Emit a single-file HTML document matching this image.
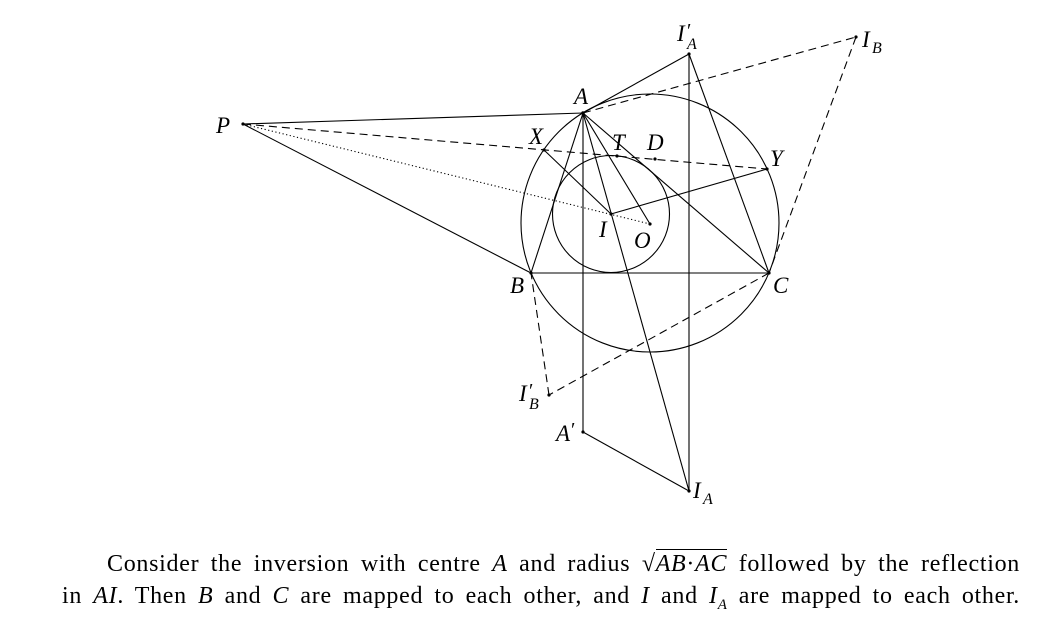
<!DOCTYPE html>
<html><head><meta charset="utf-8"><style>
html,body{margin:0;padding:0;background:#fff;}
body{width:1043px;height:620px;position:relative;overflow:hidden;}
svg{position:absolute;left:0;top:0;}
.t{position:absolute;font-family:"Liberation Serif",serif;font-size:24px;letter-spacing:0.7px;color:#000;white-space:nowrap;text-align:justify;text-align-last:justify;}
</style></head><body>
<svg width="1043" height="620" viewBox="0 0 1043 620">
<g stroke="#000" stroke-width="1.1" fill="none">
<circle cx="650" cy="223" r="129"/>
<circle cx="611" cy="214" r="58.5"/>
<line x1="243" y1="124" x2="583" y2="113"/>
<line x1="243" y1="124" x2="531" y2="273"/>
<line x1="583" y1="113" x2="531" y2="273"/>
<line x1="583" y1="113" x2="769" y2="273"/>
<line x1="531" y1="273" x2="769" y2="273"/>
<line x1="583" y1="113" x2="689" y2="491"/>
<line x1="583" y1="113" x2="650" y2="224"/>
<line x1="583" y1="113" x2="689" y2="54"/>
<line x1="689" y1="54" x2="769" y2="273"/>
<line x1="689" y1="54" x2="689" y2="491"/>
<line x1="583" y1="113" x2="583" y2="432"/>
<line x1="583" y1="432" x2="689" y2="491"/>
<line x1="544" y1="150" x2="611" y2="214"/>
<line x1="611" y1="214" x2="767" y2="169"/>
<g stroke-dasharray="8,5">
<line x1="243" y1="124" x2="767" y2="169"/>
<line x1="583" y1="113" x2="856" y2="37"/>
<line x1="856" y1="37" x2="769" y2="273"/>
<line x1="769" y1="273" x2="549" y2="395"/>
<line x1="549" y1="395" x2="531" y2="273"/>
</g>
<line x1="243" y1="124" x2="650" y2="224" stroke-dasharray="1.2,2.5"/>
</g>
<g fill="#000">
<circle cx="243" cy="124" r="1.6"/><circle cx="583" cy="113" r="1.8"/><circle cx="531" cy="273" r="1.6"/>
<circle cx="769" cy="273" r="1.6"/><circle cx="611" cy="214" r="1.6"/><circle cx="650" cy="224" r="1.6"/>
<circle cx="544" cy="150" r="1.6"/><circle cx="617" cy="156" r="1.6"/><circle cx="655" cy="159" r="1.6"/>
<circle cx="767" cy="169" r="1.6"/><circle cx="689" cy="54" r="1.6"/><circle cx="856" cy="37" r="1.6"/>
<circle cx="549" cy="395" r="1.6"/><circle cx="583" cy="432" r="1.6"/><circle cx="689" cy="491" r="1.6"/>
</g>
<g font-family="Liberation Serif, serif" font-style="italic" font-size="23" fill="#000">
<text x="216" y="133">P</text>
<text x="574" y="104">A</text>
<text x="510" y="293">B</text>
<text x="773" y="293">C</text>
<text x="529" y="144">X</text>
<text x="612" y="150">T</text>
<text x="647" y="150">D</text>
<text x="770" y="166">Y</text>
<text x="599" y="237">I</text>
<text x="634" y="248">O</text>
<text x="677" y="41">I</text><text x="687" y="37" font-size="20" font-style="normal">′</text><text x="687" y="49" font-size="16">A</text>
<text x="862" y="47">I</text><text x="872" y="53" font-size="16">B</text>
<text x="519" y="401">I</text><text x="529" y="397" font-size="20" font-style="normal">′</text><text x="529" y="409" font-size="16">B</text>
<text x="556" y="441">A</text><text x="571" y="436" font-size="20" font-style="normal">′</text>
<text x="693" y="498">I</text><text x="703" y="504" font-size="16">A</text>
</g>
</svg>
<div class="t" style="left:107px;top:551px;width:913px;">Consider the inversion with centre <i>A</i> and radius <span>√<span style="border-top:1px solid #000;padding-top:1px;"><i>AB</i>·<i>AC</i></span></span> followed by the reflection</div>
<div class="t" style="left:62px;top:583px;width:958px;">in <i>AI</i>. Then <i>B</i> and <i>C</i> are mapped to each other, and <i>I</i> and <i>I<sub style="font-size:15px">A</sub></i> are mapped to each other.</div>
</body></html>
